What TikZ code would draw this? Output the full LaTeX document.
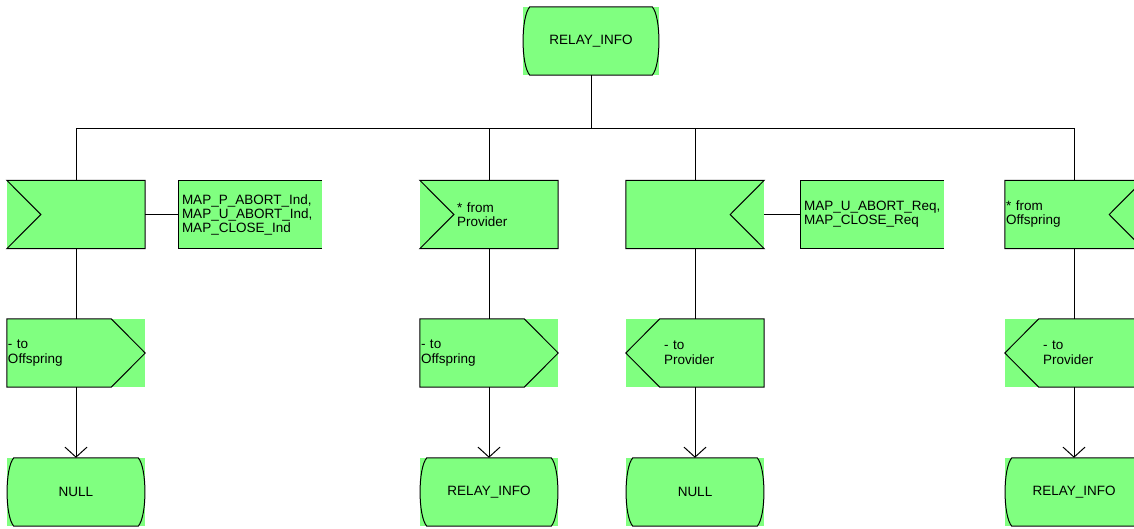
\documentclass[tikz,border=0pt]{standalone}
\usepackage{fontspec}
\setmainfont{Liberation Sans}
\usetikzlibrary{calc,arrows.meta}
\definecolor{sdlgreen}{RGB}{128,255,128}
\newcommand\sdlstateline[1]{%
  \draw[sdlline] ($(#1.north west)+(7,0)$) -- ($(#1.north east)+(-7,0)$)
    .. controls +(9,10) and +(9,-10) .. ($(#1.south east)+(-7,0)$)
    -- ($(#1.south west)+(7,0)$)
    .. controls +(-9,-10) and +(-9,10) .. cycle;}
\newcommand\sdlinleft[1]{%
  \draw[sdlline] (#1.north west) -- (#1.north east) -- (#1.south east) -- (#1.south west)
    -- ($(#1.west)+(34,0)$) -- cycle;}
\newcommand\sdlinright[1]{%
  \draw[sdlline] (#1.north west) -- (#1.north east) -- ($(#1.east)+(-34,0)$)
    -- (#1.south east) -- (#1.south west) -- cycle;}
\newcommand\sdloutright[1]{%
  \draw[sdlline] (#1.north west) -- ($(#1.north east)+(-34,0)$) -- (#1.east)
    -- ($(#1.south east)+(-34,0)$) -- (#1.south west) -- cycle;}
\newcommand\sdloutleft[1]{%
  \draw[sdlline] (#1.west) -- ($(#1.north west)+(34,0)$) -- (#1.north east)
    -- (#1.south east) -- ($(#1.south west)+(34,0)$) -- cycle;}
\newcommand\sdlcommentline[1]{%
  \draw[sdlline] (#1.north east) -- (#1.north west) -- (#1.south west) -- (#1.south east);}
\tikzset{
  sdlline/.style={draw=black, line width=1pt, line join=miter},
  sdlbox/.style={rectangle, fill=sdlgreen, draw=none, minimum height=68pt,
    inner ysep=0pt, font=\fontsize{13.5}{14}\selectfont, text=black},
  statebox/.style={sdlbox, minimum width=138pt, inner xsep=0pt, align=center},
  leftbox/.style={sdlbox, inner xsep=#1pt, text width=138pt-2*#1pt, align=left},
  outbox/.style={leftbox=#1, font=\fontsize{13.5}{15}\selectfont},
  commentbox/.style={sdlbox, inner xsep=3pt, text width=137pt, align=left},
  conn/.style={draw=black, line width=1pt},
  flow/.style={conn, -{Straight Barb[length=10pt,width=22pt,line width=1pt]}},
}
\begin{document}
\begin{tikzpicture}[x=1pt,y=-1pt]
\useasboundingbox (0,0) rectangle (1134,528);
\clip (0,0) rectangle (1134,528);

% top state
\node[statebox, minimum width=136pt] (top) at (591,41) {RELAY\_INFO};

% inputs
\node[leftbox=1] (in1) at (76,214.5) {};
\node[commentbox] (c1) at (250.5,214.5) {MAP\_P\_ABORT\_Ind,\\MAP\_U\_ABORT\_Ind,\\MAP\_CLOSE\_Ind};
\node[leftbox=37] (in2) at (489,214.5) {* from\\Provider};
\node[leftbox=1] (in3) at (695,214.5) {};
\node[commentbox] (c3) at (872.5,214.5) {MAP\_U\_ABORT\_Req,\\MAP\_CLOSE\_Req};
\node[leftbox=1] (in4) at (1074,214.5) {* from\\Offspring};

% outputs
\node[outbox=1] (out1) at (76,353) {- to\\Offspring};
\node[outbox=1] (out2) at (489,353) {- to\\Offspring};
\node[outbox=38] (out3) at (695,353) {- to\\Provider};
\node[outbox=38] (out4) at (1074,353) {- to\\Provider};

% next states
\node[statebox] (s1) at (76,492) {NULL};
\node[statebox] (s2) at (489,492) {RELAY\_INFO};
\node[statebox] (s3) at (695,492) {NULL};
\node[statebox] (s4) at (1074,492) {RELAY\_INFO};

% outlines
\sdlstateline{top}
\sdlinleft{in1}
\sdlinleft{in2}
\sdlinright{in3}
\sdlinright{in4}
\sdlcommentline{c1}
\sdlcommentline{c3}
\sdloutright{out1}
\sdloutright{out2}
\sdloutleft{out3}
\sdloutleft{out4}
\sdlstateline{s1}
\sdlstateline{s2}
\sdlstateline{s3}
\sdlstateline{s4}

% bus
\coordinate (bus) at (591,128);
\coordinate (b1) at (in1.north |- bus);
\coordinate (b2) at (in2.north |- bus);
\coordinate (b3) at (in3.north |- bus);
\coordinate (b4) at (in4.north |- bus);
\draw[conn] (top.south) -- (bus);
\draw[conn] (b1) -- (b4);
\draw[conn] (b1) -- (in1.north);
\draw[conn] (b2) -- (in2.north);
\draw[conn] (b3) -- (in3.north);
\draw[conn] (b4) -- (in4.north);

% comment links
\draw[conn] (in1.east) -- (c1.west);
\draw[conn] (in3.east) -- (c3.west);

% flows
\foreach \i in {1,2,3,4}{
  \draw[conn] (in\i.south) -- (out\i.north);
  \draw[flow] (out\i.south) -- (s\i.north);
}
\end{tikzpicture}
\end{document}
